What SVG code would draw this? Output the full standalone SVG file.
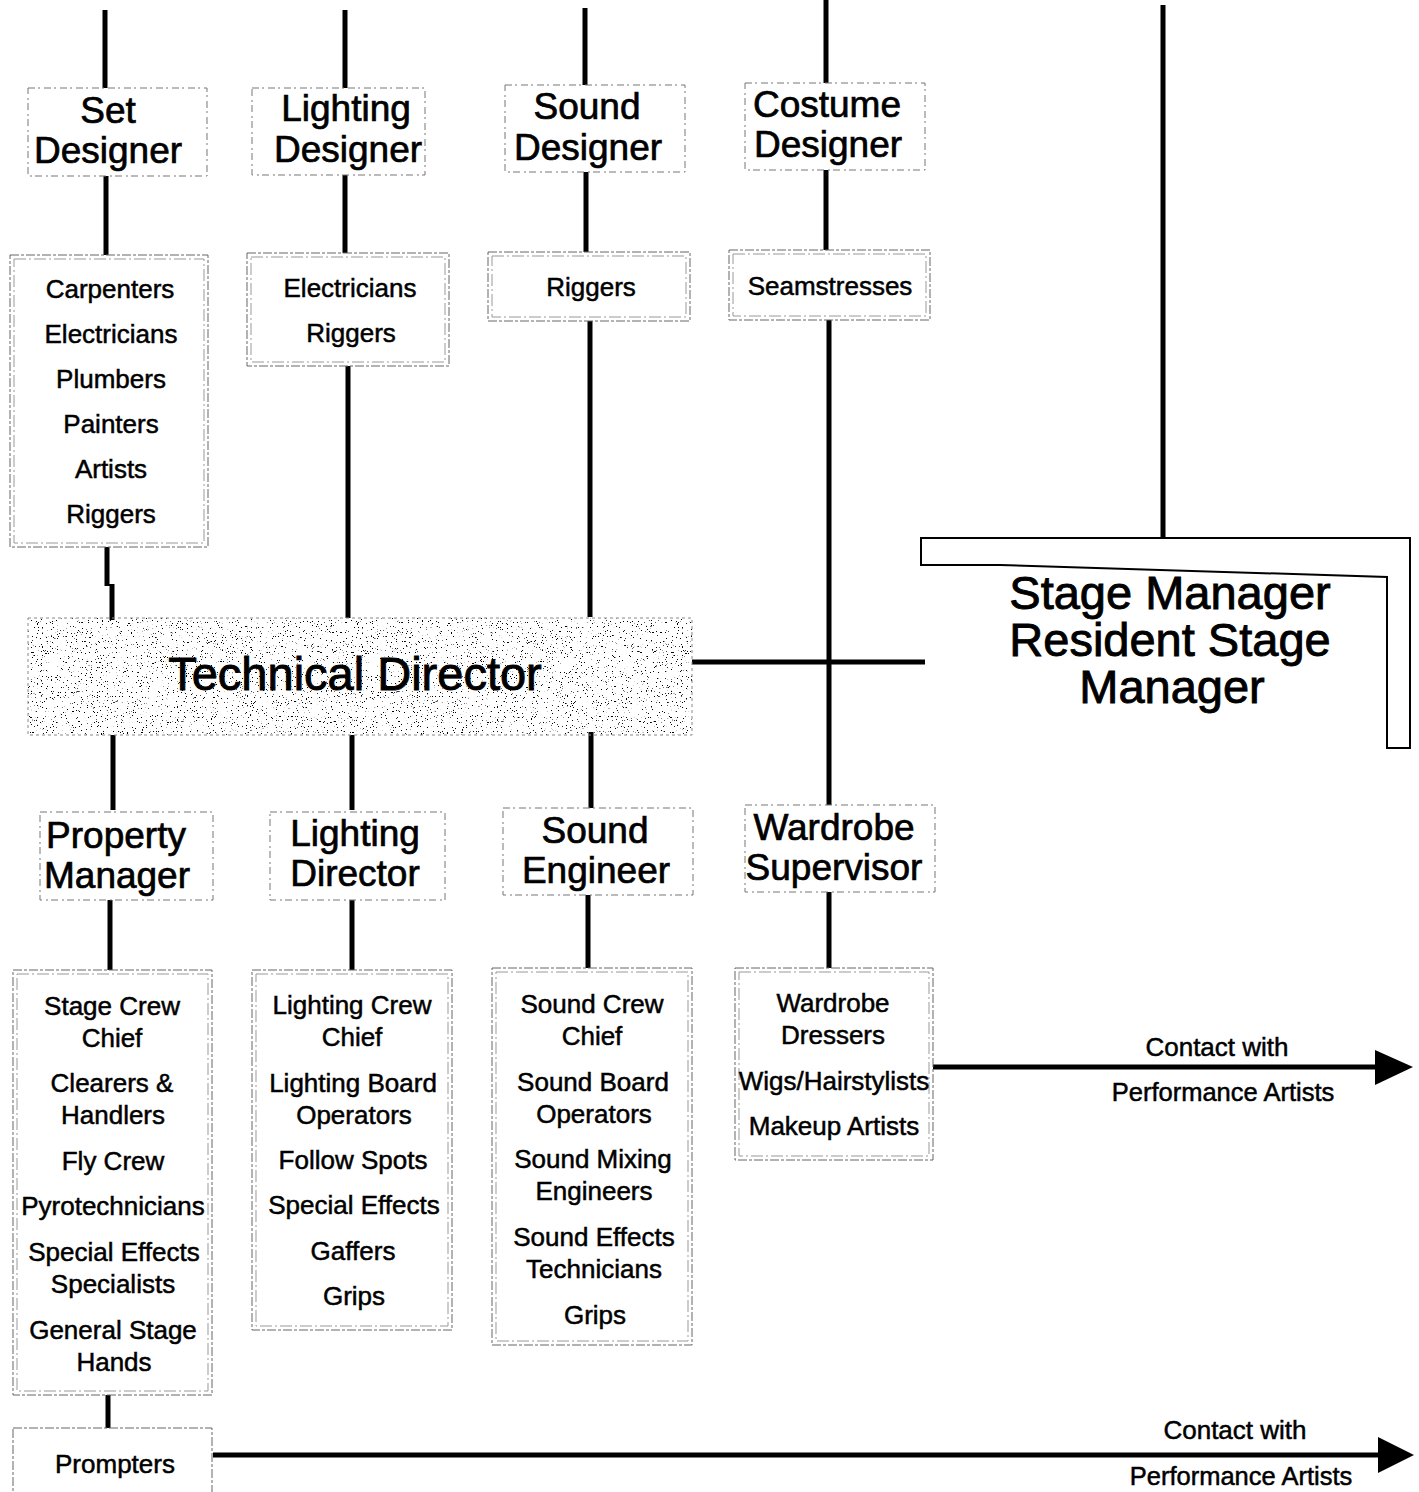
<svg xmlns="http://www.w3.org/2000/svg" width="1419" height="1492" viewBox="0 0 1419 1492">
<defs>
<style>
text{font-family:"Liberation Sans",Arial,sans-serif;fill:#000;text-anchor:middle;stroke:#000;stroke-width:0.5}
.t{font-size:37px;stroke-width:0.7}
.i{font-size:26px}
.big{font-size:47px;stroke-width:0.9}
.c{font-size:25.5px}
.tb{fill:none;stroke:#777;stroke-width:1;stroke-dasharray:7 3 2 4}
.ob{fill:none;stroke:#666;stroke-width:1;stroke-dasharray:9 2 3 2}
.ib{fill:none;stroke:#999;stroke-width:1;stroke-dasharray:12 3 2 3}
.ln{stroke:#000;stroke-width:5;fill:none}
</style>
<filter id="speckle" x="0" y="0" width="100%" height="100%">
<feTurbulence type="fractalNoise" baseFrequency="0.8" numOctaves="2" seed="7" result="n"/>
<feColorMatrix in="n" type="matrix" values="0 0 0 0 0  0 0 0 0 0  0 0 0 0 0  -20 0 0 0 6.5"/>
</filter>
</defs>
<rect width="1419" height="1492" fill="#fff"/>

<g id="connectors">
<path class="ln" d="M105 10V88M106 176V255M107 547V586M112 584V620M113 735V810M110 900V970"/>
<path class="ln" d="M108 1395V1428" stroke-width="8"/>
<path class="ln" d="M345 10V88M345 175V253M348 366V618M352 735V810M352 900V970"/>
<path class="ln" d="M585 8V85M586 172V252M590 321V617M591 732V808M588 895V968"/>
<path class="ln" d="M826 0V83M826 170V250M829 320V805M829 892V968"/>
<path class="ln" d="M1163 5V540"/>
<path class="ln" d="M692 662H925" stroke-width="4"/>
<path class="ln" d="M933 1067H1380" stroke-width="7"/>
<polygon points="1375,1050 1413,1067 1375,1085" fill="#000"/>
<path class="ln" d="M213 1455H1382" stroke-width="6"/>
<polygon points="1378,1437 1414,1455 1378,1473" fill="#000"/>
<text class="i" x="1217" y="1056">Contact with</text>
<text class="c" x="1223" y="1101">Performance Artists</text>
<text class="i" x="1235" y="1439">Contact with</text>
<text class="c" x="1241" y="1485">Performance Artists</text>
</g>

<g id="set-designer">
<rect class="tb" x="28" y="88" width="179" height="88"/>
<text class="t" x="108" y="123">Set</text>
<text class="t" x="108" y="163">Designer</text>
</g>
<g id="lighting-designer">
<rect class="tb" x="252" y="88" width="173" height="87"/>
<text class="t" x="346" y="121">Lighting</text>
<text class="t" x="348" y="162">Designer</text>
</g>
<g id="sound-designer">
<rect class="tb" x="505" y="85" width="180" height="87"/>
<text class="t" x="587" y="119">Sound</text>
<text class="t" x="588" y="160">Designer</text>
</g>
<g id="costume-designer">
<rect class="tb" x="745" y="83" width="180" height="87"/>
<text class="t" x="827" y="117">Costume</text>
<text class="t" x="828" y="157">Designer</text>
</g>

<g id="set-crew">
<rect class="ob" x="10" y="255" width="198" height="292"/>
<rect class="ib" x="14" y="259" width="190" height="284"/>
<text class="i" x="110" y="298">Carpenters</text>
<text class="i" x="111" y="343">Electricians</text>
<text class="i" x="111" y="388">Plumbers</text>
<text class="i" x="111" y="433">Painters</text>
<text class="i" x="111" y="478">Artists</text>
<text class="i" x="111" y="523">Riggers</text>
</g>
<g id="lighting-crew">
<rect class="ob" x="247" y="253" width="202" height="113"/>
<rect class="ib" x="251" y="257" width="194" height="105"/>
<text class="i" x="350" y="297">Electricians</text>
<text class="i" x="351" y="342">Riggers</text>
</g>
<g id="sound-crew">
<rect class="ob" x="488" y="252" width="202" height="69"/>
<rect class="ib" x="492" y="256" width="194" height="61"/>
<text class="i" x="591" y="296">Riggers</text>
</g>
<g id="costume-crew">
<rect class="ob" x="729" y="250" width="201" height="70"/>
<rect class="ib" x="733" y="254" width="193" height="62"/>
<text class="i" x="830" y="295">Seamstresses</text>
</g>

<g id="technical-director">
<rect x="28" y="618" width="664" height="117" fill="#fff" filter="url(#speckle)"/>
<rect x="28" y="618" width="664" height="117" fill="none" stroke="#888" stroke-width="1" stroke-dasharray="3 3"/>
<text class="big" x="355" y="690">Technical Director</text>
</g>

<g id="stage-manager">
<path d="M921 538H1410V748H1387V577L1000 565H921Z" fill="#fff" stroke="#000" stroke-width="2"/>
<text class="big" x="1170" y="609">Stage Manager</text>
<text class="big" x="1170" y="656">Resident Stage</text>
<text class="big" x="1172" y="703">Manager</text>
</g>

<g id="property-manager">
<rect class="tb" x="40" y="812" width="173" height="88"/>
<text class="t" x="116" y="848">Property</text>
<text class="t" x="117" y="888">Manager</text>
</g>
<g id="lighting-director">
<rect class="tb" x="270" y="812" width="175" height="88"/>
<text class="t" x="355" y="846">Lighting</text>
<text class="t" x="355" y="886">Director</text>
</g>
<g id="sound-engineer">
<rect class="tb" x="503" y="808" width="190" height="87"/>
<text class="t" x="595" y="843">Sound</text>
<text class="t" x="596" y="883">Engineer</text>
</g>
<g id="wardrobe-supervisor">
<rect class="tb" x="745" y="805" width="190" height="87"/>
<text class="t" x="834" y="840">Wardrobe</text>
<text class="t" x="834" y="880">Supervisor</text>
</g>

<g id="property-crew">
<rect class="ob" x="13" y="970" width="199" height="425"/>
<rect class="ib" x="17" y="974" width="191" height="417"/>
<text class="i" x="112" y="1015">Stage Crew</text>
<text class="i" x="112" y="1047">Chief</text>
<text class="i" x="112" y="1092">Clearers &amp;</text>
<text class="i" x="113" y="1124">Handlers</text>
<text class="i" x="113" y="1170">Fly Crew</text>
<text class="i" x="113" y="1215">Pyrotechnicians</text>
<text class="i" x="114" y="1261">Special Effects</text>
<text class="i" x="113" y="1293">Specialists</text>
<text class="i" x="113" y="1339">General Stage</text>
<text class="i" x="114" y="1371">Hands</text>
</g>
<g id="lighting-crew-2">
<rect class="ob" x="252" y="970" width="200" height="360"/>
<rect class="ib" x="256" y="974" width="192" height="352"/>
<text class="i" x="352" y="1014">Lighting Crew</text>
<text class="i" x="352" y="1046">Chief</text>
<text class="i" x="353" y="1092">Lighting Board</text>
<text class="i" x="354" y="1124">Operators</text>
<text class="i" x="353" y="1169">Follow Spots</text>
<text class="i" x="354" y="1214">Special Effects</text>
<text class="i" x="353" y="1260">Gaffers</text>
<text class="i" x="354" y="1305">Grips</text>
</g>
<g id="sound-crew-2">
<rect class="ob" x="492" y="968" width="200" height="377"/>
<rect class="ib" x="496" y="972" width="192" height="369"/>
<text class="i" x="592" y="1013">Sound Crew</text>
<text class="i" x="592" y="1045">Chief</text>
<text class="i" x="593" y="1091">Sound Board</text>
<text class="i" x="594" y="1123">Operators</text>
<text class="i" x="593" y="1168">Sound Mixing</text>
<text class="i" x="594" y="1200">Engineers</text>
<text class="i" x="594" y="1246">Sound Effects</text>
<text class="i" x="594" y="1278">Technicians</text>
<text class="i" x="595" y="1324">Grips</text>
</g>
<g id="wardrobe-crew">
<rect class="ob" x="735" y="968" width="198" height="192"/>
<rect class="ib" x="739" y="972" width="190" height="184"/>
<text class="i" x="833" y="1012">Wardrobe</text>
<text class="i" x="833" y="1044">Dressers</text>
<text class="i" x="834" y="1090">Wigs/Hairstylists</text>
<text class="i" x="834" y="1135">Makeup Artists</text>
</g>

<g id="prompters">
<rect class="ob" x="13" y="1428" width="199" height="70"/>
<text class="i" x="115" y="1473">Prompters</text>
</g>
</svg>
